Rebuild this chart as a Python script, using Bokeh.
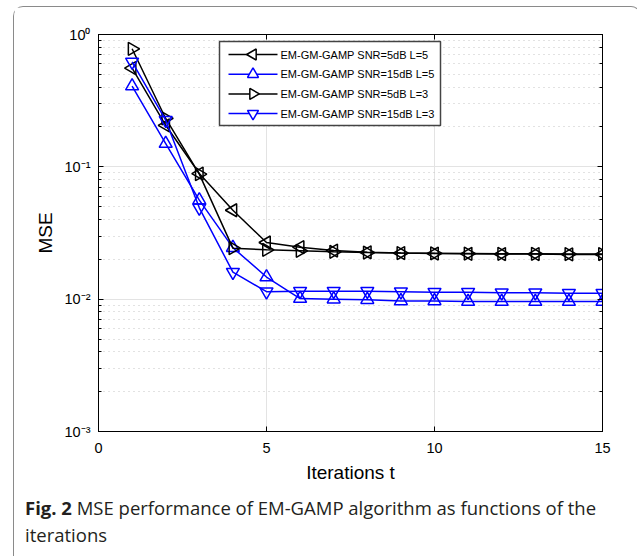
import math
from bokeh.plotting import figure
from bokeh.models import (LinearAxis, LogAxis, CustomJSTickFormatter, Div, FixedTicker,
                          CustomLabelingPolicy, Range1d, LinearScale)
from bokeh.core.properties import value
from bokeh.layouts import column
from bokeh.embed import file_html
from bokeh.resources import INLINE

# ---- data ----
iterations = list(range(1, 16))
mse_snr5_l5 = [0.557, 0.206, 0.089, 0.047, 0.0268, 0.0247, 0.0233, 0.0226, 0.0223,
               0.0221, 0.0220, 0.0219, 0.0219, 0.0218, 0.0218]
mse_snr15_l5 = [0.408, 0.150, 0.056, 0.0245, 0.0147, 0.0101, 0.0100, 0.0099, 0.0097,
                0.0097, 0.0096, 0.0096, 0.0096, 0.0096, 0.0096]
mse_snr5_l3 = [0.78, 0.232, 0.088, 0.0243, 0.0236, 0.0232, 0.0228, 0.0225, 0.0223,
               0.0222, 0.0221, 0.0220, 0.0220, 0.0219, 0.0219]
mse_snr15_l3 = [0.62, 0.225, 0.049, 0.016, 0.0114, 0.0115, 0.0115, 0.0115, 0.0114,
                0.0113, 0.0113, 0.0112, 0.0112, 0.0111, 0.0111]
series_labels = ["EM-GM-GAMP SNR=5dB L=5", "EM-GM-GAMP SNR=15dB L=5",
                 "EM-GM-GAMP SNR=5dB L=3", "EM-GM-GAMP SNR=15dB L=3"]
x_ticks = [0, 5, 10, 15]
caption_bold = "Fig. 2"
caption_line1 = "MSE performance of EM-GAMP algorithm as functions of the"
caption_line2 = "iterations"

AX_FONT = "Liberation Sans"

# ---- layout constants (pixels) ----
FRAME_W, FRAME_H = 504, 397
LEG_BOX = (121, 342, 306, 390)          # left, right, bottom, top (px inside frame)
LEG_ROWS = [377, 357.3, 337.6, 317.9]    # row centres (px from frame bottom)
LEG_LINE = (130, 179)
LEG_MARK_X = 154.5
LEG_TEXT_X = 182

p = figure(width=616, height=483, x_range=(0, 15), y_range=(1e-3, 1),
           y_axis_type="log", output_backend="svg", toolbar_location=None,
           min_border_left=84, min_border_right=28, min_border_top=27,
           min_border_bottom=59)
p.background_fill_color = "white"
p.border_fill_color = "white"
p.outline_line_color = "black"
p.outline_line_width = 1
p.extra_x_ranges = {"lx": Range1d(0, FRAME_W)}
p.extra_y_ranges = {"ly": Range1d(0, FRAME_H)}
p.extra_x_scales = {"lx": LinearScale()}
p.extra_y_scales = {"ly": LinearScale()}

fmt = CustomJSTickFormatter(code="""
const e = Math.round(Math.log10(tick));
const sup = {"-":"\u207b","0":"\u2070","1":"\u00b9","2":"\u00b2","3":"\u00b3","4":"\u2074",
             "5":"\u2075","6":"\u2076","7":"\u2077","8":"\u2078","9":"\u2079"};
return "10" + String(e).split("").map(c => sup[c]).join("");
""")

# bottom / left axes
p.xaxis.ticker = FixedTicker(ticks=x_ticks)
p.xaxis.axis_label = "Iterations t"
p.yaxis.axis_label = "MSE"
p.yaxis.formatter = fmt
for ax in (p.xaxis[0], p.yaxis[0]):
    ax.axis_line_color = "black"
    ax.major_tick_line_color = "black"
    ax.minor_tick_line_color = "black"
    ax.major_tick_in = 5
    ax.major_tick_out = 0
    ax.minor_tick_in = 3
    ax.minor_tick_out = 0
    ax.major_label_text_font = AX_FONT
    ax.major_label_text_font_size = "14.5px"
    ax.major_label_text_color = "black"
    ax.axis_label_text_font = AX_FONT
    ax.axis_label_text_font_size = "19px"
    ax.axis_label_text_font_style = "normal"
    ax.axis_label_text_color = "black"
p.xaxis.major_label_standoff = 11
p.xaxis.axis_label_standoff = 6
p.yaxis.major_label_standoff = 8
p.yaxis.axis_label_standoff = 6


def no_labels():
    return CustomLabelingPolicy(code="const a = [...indices]; for (const i of a) indices.unset(i);")


# top / right axes (ticks only)
top = LinearAxis(ticker=FixedTicker(ticks=x_ticks), major_label_policy=no_labels(),
                 major_label_text_color=None, major_label_text_font_size="8px",
                 major_label_standoff=0,
                 major_tick_in=5, major_tick_out=0, axis_line_color="black",
                 major_tick_line_color="black")
right = LogAxis(major_label_policy=no_labels(), major_label_text_color=None,
                major_label_text_font_size="8px", major_label_standoff=0,
                major_tick_in=5, major_tick_out=0,
                minor_tick_in=3, minor_tick_out=0, axis_line_color="black",
                major_tick_line_color="black", minor_tick_line_color="black")
p.add_layout(top, "above")
p.add_layout(right, "right")

# grids
p.xgrid.ticker = FixedTicker(ticks=x_ticks)
p.xgrid.grid_line_color = "#e3e3e3"
p.ygrid.grid_line_color = "#e3e3e3"
p.ygrid.minor_grid_line_color = "#c4c4c4"
p.ygrid.minor_grid_line_dash = "1 4"

styles = [
    (mse_snr5_l5, "black", "triangle", math.pi / 2),
    (mse_snr15_l5, "#0000ff", "triangle", 0.0),
    (mse_snr5_l3, "black", "triangle", -math.pi / 2),
    (mse_snr15_l3, "#0000ff", "inverted_triangle", 0.0),
]
for vals, col, mk, ang in styles:
    p.line(iterations, vals, line_color=col, line_width=1.5)
    p.scatter(iterations, vals, marker=mk, angle=ang, size=13, fill_color=None,
              line_color=col, line_width=1.5)

# ---- legend drawn in frame-pixel coordinates ----
p.quad(left=LEG_BOX[0], right=LEG_BOX[1], bottom=LEG_BOX[2], top=LEG_BOX[3],
       x_range_name="lx", y_range_name="ly", fill_color="white",
       line_color="#444444", line_width=1.5)
for (vals, col, mk, ang), yrow, lab in zip(styles, LEG_ROWS, series_labels):
    p.segment(x0=LEG_LINE[0], x1=LEG_LINE[1], y0=yrow, y1=yrow, line_color=col,
              line_width=1.5, x_range_name="lx", y_range_name="ly")
    p.scatter(x=[LEG_MARK_X], y=[yrow], marker=mk, angle=ang, size=11, fill_color="white",
              line_color=col, line_width=1.5, x_range_name="lx", y_range_name="ly")
    p.text(x=[LEG_TEXT_X], y=[yrow], text=[lab], text_baseline="middle",
           text_align="left", text_font=value(AX_FONT), text_font_size="11px",
           text_color="black", x_range_name="lx", y_range_name="ly")

cap = Div(text=(f'<div style="font-family:\'Open Sans\';font-size:18.5px;line-height:27px;'
                f'color:#231f20;padding:0 4px 0 6px;width:600px;margin-top:-1px;'
                f'white-space:nowrap">'
                f'<b>{caption_bold}</b> <span>{caption_line1}</span><br>'
                f'<span>{caption_line2}</span></div>'),
          width=616, height=65)

layout = column(p, cap, margin=(6, 0, 0, 13),
                styles={"border": "1px solid #8a8a8a", "border-bottom": "none",
                        "border-radius": "10px 10px 0 0", "background": "white"})

open("out.html", "w").write(file_html(layout, INLINE))
